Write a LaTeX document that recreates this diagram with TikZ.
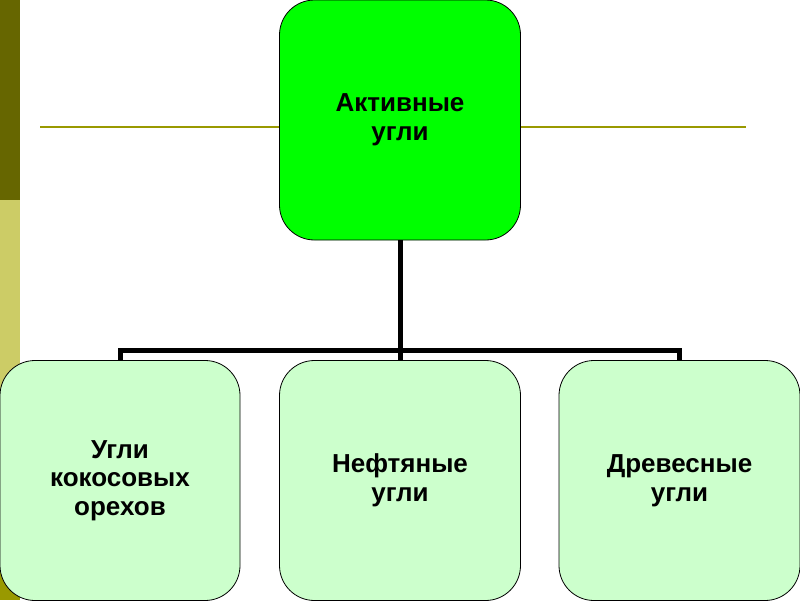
\documentclass[tikz,border=0pt]{standalone}
\usepackage{fontspec}
\setmainfont{Liberation Sans}
\definecolor{bardark}{HTML}{666600}
\definecolor{barlight}{HTML}{CCCC66}
\definecolor{barolive}{HTML}{999900}
\definecolor{topgreen}{HTML}{00FF00}
\definecolor{lightgreen}{HTML}{CCFFCC}
\tikzset{
  box/.style={draw=black, line width=0.8pt, rounded corners=35pt, minimum width=241pt, minimum height=240pt, inner sep=0pt, align=center, font=\fontsize{26}{28.5}\selectfont\bfseries, text=black},
  conn/.style={draw=black, line width=5pt, line join=miter, line cap=butt},
}
\begin{document}
\begin{tikzpicture}[x=1pt,y=-1pt]
\useasboundingbox (0,0) rectangle (800,600);
\fill[white] (0,0) rectangle (800,600);
% left bar
\fill[bardark] (0,0) rectangle (20,200);
\fill[barlight] (0,200) rectangle (20,560);
\fill[barolive] (0,560) rectangle (20,600);
% horizontal rule
\draw[barolive, line width=2pt] (40,127) -- (746,127);
% nodes
\node[box, fill=topgreen] (top) at (400,120) {Активные\\угли};
\node[box, fill=lightgreen, minimum width=240pt] (k1) at (120,480.5) {Угли\\кокосовых\\орехов};
\node[box, fill=lightgreen] (k2) at (400,480.5) {Нефтяные\\угли};
\node[box, fill=lightgreen] (k3) at (679.5,480.5) {Древесные\\угли};
% connectors
\coordinate (bus) at (400,350);
\draw[conn] (top.south) -- (bus);
\draw[conn] (k1.north) -- (k1.north |- bus) -- (k3.north |- bus) -- (k3.north);
\draw[conn] (bus) -- (k2.north);
\end{tikzpicture}
\end{document}
